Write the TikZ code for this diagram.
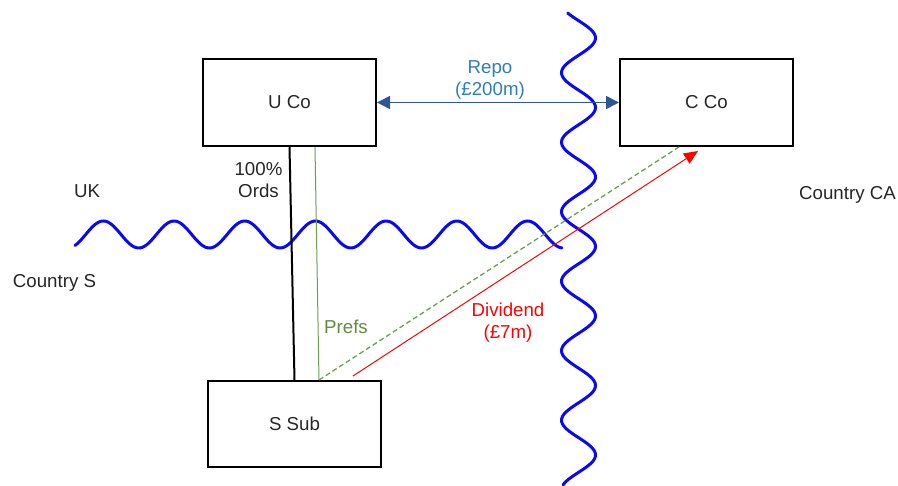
\documentclass[tikz,border=0pt]{standalone}
\usepackage{fontspec}
\setmainfont{Liberation Sans}
\usetikzlibrary{arrows.meta,calc}
\definecolor{wavecol}{RGB}{10,10,240}
\definecolor{repoline}{RGB}{47,85,151}
\definecolor{repotext}{RGB}{46,125,190}
\definecolor{prefline}{RGB}{106,160,80}
\definecolor{preftext}{RGB}{96,140,64}
\definecolor{divred}{RGB}{255,0,0}
\begin{document}
\begin{tikzpicture}[x=1pt,y=-1pt,
  font=\fontsize{18.7}{22}\selectfont,
  box/.style={draw=black, line width=2pt, minimum width=173pt, minimum height=87pt, inner sep=0pt, text=black!85},
  wavy/.style={draw=wavecol, line width=3pt, line cap=round},
  lbl/.style={inner sep=0pt, align=center, text=black!85},
  ordsline/.style={draw=black, line width=2pt},
  prefsline/.style={draw=prefline, line width=1pt},
  prefsdash/.style={draw=prefline, line width=1.3pt, dash pattern=on 5pt off 3pt},
  repoarrow/.style={draw=repoline, line width=1.6pt, {Triangle[length=13pt,width=13pt]}-{Triangle[length=13pt,width=13pt]}},
  divarrow/.style={draw=divred, line width=1pt, -{Triangle[length=14pt,width=12pt]}}
]
\useasboundingbox (0,0) rectangle (898,486);

% waves (borders)
\draw[wavy] plot[domain=75:562, samples=240, smooth] (\x, {234.5+13.5*cos(5.0919*(\x-68))});
\draw[wavy] plot[domain=13:485, samples=240, smooth] ({578.5+17*cos(5.1799*(\x-38))}, \x);

% boxes
\node[box] (uco) at (289.5,102.5) {U Co};
\node[box] (cco) at (706.5,102.5) {C Co};
\node[box, minimum height=86pt] (ssub) at (294.5,424) {S Sub};

% connectors
\draw[ordsline] (uco.south) -- (ssub.north);
\draw[prefsline] ([xshift=25.5pt]uco.south) -- ([xshift=24.5pt]ssub.north);
\draw[prefsdash] ([xshift=24.5pt]ssub.north) -- ([xshift=-27.5pt]cco.south);
\coordinate (divstart) at (353,376);
\coordinate (divend) at (698,151);
\draw[divarrow] (divstart) -- (divend);
\draw[repoarrow] (uco.east) -- (cco.west);

% labels
\node[lbl, text=repotext] (repo) at (490,80) {Repo\\(£200m)};
\node[lbl] (ords) at (258.5,180) {100\%\\Ords};
\node[lbl, text=preftext, anchor=base] (prefs) at (346,334) {Prefs};
\node[lbl, text=divred] (div) at (508,322.4) {Dividend\\(£7m)};
\node[lbl, anchor=base] (uk) at (87,197.5) {UK};
\node[lbl, anchor=base] (cs) at (54.5,287.3) {Country S};
\node[lbl, anchor=base] (cca) at (847.5,199.3) {Country CA};
\end{tikzpicture}
\end{document}
